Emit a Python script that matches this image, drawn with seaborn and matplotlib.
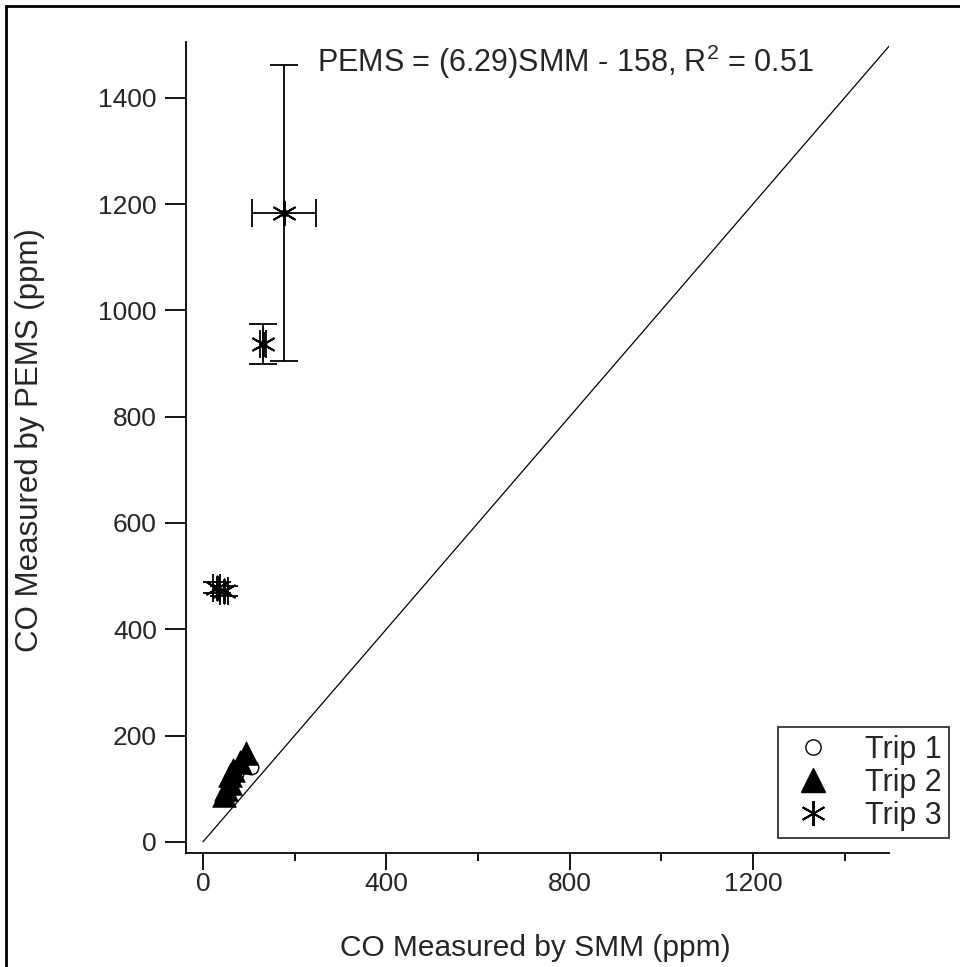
import matplotlib
matplotlib.use("Agg")
import matplotlib.pyplot as plt
import seaborn as sns
import pandas as pd
from matplotlib.lines import Line2D

# ---- data ----
trip1_smm = [105, 72]
trip1_pems = [140, 128]
trip1_smm_err = [8, 6]
trip1_pems_err = [8, 6]

trip2_smm = [94, 80, 66, 58, 60, 50, 47]
trip2_pems = [168, 150, 136, 125, 110, 100, 88]

trip3_smm = [177, 131, 30, 46]
trip3_pems = [1183, 937, 478, 472]
trip3_smm_err = [70, 6, 8, 8]
trip3_pems_err = [278, 37, 10, 10]

fit_text = "PEMS = (6.29)SMM - 158, R$^2$ = 0.51"
one_to_one = [0, 1500]

x_major = [0, 400, 800, 1200]
x_minor = [200, 600, 1000, 1400]
y_major = [0, 200, 400, 600, 800, 1000, 1200, 1400]
trip_labels = ["Trip 1", "Trip 2", "Trip 3"]

sns.set_style("ticks")
plt.rcParams["font.family"] = ["Liberation Sans", "DejaVu Sans"]
plt.rcParams["mathtext.fontset"] = "custom"
plt.rcParams["mathtext.rm"] = "Liberation Sans"

fig = plt.figure(figsize=(9.6, 9.67), dpi=100)
W, H = 960, 967
L, R, T, B = 186, 889, 42, 853
ax = fig.add_axes([L / W, 1 - B / H, (R - L) / W, (B - T) / H])

# 1:1 line
sns.lineplot(x=one_to_one, y=one_to_one, ax=ax, color="black", lw=0.9, zorder=1)

# error bars
ax.errorbar(trip3_smm, trip3_pems, xerr=trip3_smm_err, yerr=trip3_pems_err,
            fmt="none", ecolor="black", elinewidth=1.3, capsize=10, capthick=1.3, zorder=2)
ax.errorbar(trip1_smm, trip1_pems, xerr=trip1_smm_err, yerr=trip1_pems_err,
            fmt="none", ecolor="black", elinewidth=1.0, capsize=4, capthick=1.0, zorder=2)

star = (6, 2, 0)
d1 = pd.DataFrame({"SMM": trip1_smm, "PEMS": trip1_pems})
d2 = pd.DataFrame({"SMM": trip2_smm, "PEMS": trip2_pems})

sns.scatterplot(data=d1, x="SMM", y="PEMS", ax=ax, marker="o", s=110,
                facecolor="white", edgecolor="black", linewidth=1.0, zorder=3, legend=False)
sns.scatterplot(data=d2, x="SMM", y="PEMS", ax=ax, marker="^", s=290,
                color="black", edgecolor="black", linewidth=0.5, zorder=4, legend=False)
ax.scatter(trip3_smm, trip3_pems, marker=star, s=300, color="black", linewidths=1.4, zorder=5)
ax.scatter(trip3_smm, trip3_pems, marker="o", s=20, color="black", zorder=6)

ax.set_xlim(-37, 1497)
ax.set_ylim(-21, 1505)
sns.despine(ax=ax)
for s in ["left", "bottom"]:
    ax.spines[s].set_linewidth(1.3)
    ax.spines[s].set_color("black")

ax.set_xticks(x_major)
ax.set_xticks(x_minor, minor=True)
ax.set_yticks(y_major)
ax.tick_params(axis="y", which="major", direction="out", length=15, width=1.3,
               labelsize=19, color="black", pad=6)
ax.tick_params(axis="x", which="major", direction="out", length=12, width=1.3,
               labelsize=19, color="black", pad=2)
ax.tick_params(axis="x", which="minor", direction="out", length=6, width=1.3, color="black")

ax.set_xlabel("CO Measured by SMM (ppm)", fontsize=21.5, va="center")
ax.set_ylabel("CO Measured by PEMS (ppm)", fontsize=22.5, va="center")
ax.xaxis.set_label_coords((535 - L) / (R - L), (B - 948) / (B - T))
ax.yaxis.set_label_coords((30 - L) / (R - L), (B - 440) / (B - T))

ax.text((565 - L) / (R - L), (B - 62) / (B - T), fit_text, transform=ax.transAxes,
        ha="center", va="center", fontsize=22)

# legend
handles = [
    Line2D([], [], ls="none", marker="o", ms=11, mfc="white", mec="black", mew=1.0),
    Line2D([], [], ls="none", marker="^", ms=17, color="black"),
    Line2D([], [], ls="none", marker=star, ms=18, color="black", mew=1.4),
]
leg = fig.legend(handles, trip_labels, loc="upper left",
                 bbox_to_anchor=(778 / W, 1 - 727 / H), borderaxespad=0,
                 fontsize=22, frameon=True, fancybox=False, shadow=False,
                 handlelength=1.8, handletextpad=0.8, labelspacing=0.1, borderpad=0.25)
leg.get_frame().set_edgecolor("black")
leg.get_frame().set_linewidth(1.3)

# outer frame of the picture
fig.add_artist(Line2D([6 / W, 6 / W], [0, 1 - 6 / H], transform=fig.transFigure,
                      color="black", lw=2))
fig.add_artist(Line2D([6 / W, 1], [1 - 6 / H, 1 - 6 / H], transform=fig.transFigure,
                      color="black", lw=2))

fig.savefig("out.png", dpi=100)
